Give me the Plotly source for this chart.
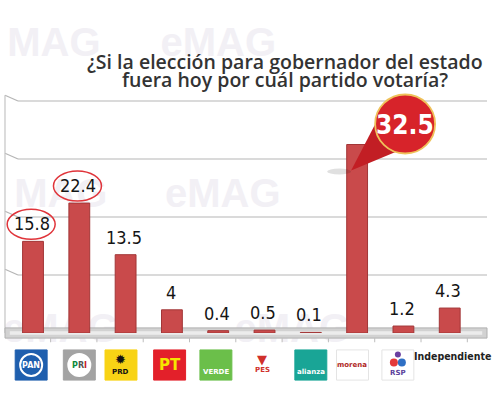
import plotly.graph_objects as go

# datos
partidos = ["PAN", "PRI", "PRD", "PT", "VERDE", "PES", "alianza", "morena", "RSP", "Independiente"]
valores = [15.8, 22.4, 13.5, 4, 0.4, 0.5, 0.1, 32.5, 1.2, 4.3]
etiquetas = ["15.8", "22.4", "13.5", "4", "0.4", "0.5", "0.1", "32.5", "1.2", "4.3"]
marcados = [0, 1]      # valores encerrados en elipse
destacado = 7          # valor con globo
lineas_guia = [10, 20, 30, 40]
titulo = ["¿Si la elección para gobernador del estado", "fuera hoy por cuál partido votaría?"]

# logotipos (cuadro de color + texto)
logo_fondo = ["#1f5fae", "#a3a3a3", "#f8d315", "#e3202a", "#6bbf4a", None, "#19a596", "#ffffff", "#ffffff", None]
logo_texto = ["PAN", "PRI", "PRD", "PT", "VERDE", "PES", "alianza", "morena", "RSP", "Independiente"]
logo_color = ["white", "#c8202a", "#111111", "#f6e500", "white", "#d0302a", "white", "#b0281f", "#5b3f9b", "#222222"]
logo_desfase = [-0.04, 0.0, -0.1, -0.05, -0.05, -0.05, 0.0, -0.1, -0.12, 0.07]

YMAX = 40
ROJO = "#c94a4b"
FUENTE_NUM = "Liberation Sans Narrow, DejaVu Sans Condensed, sans-serif"

fig = go.Figure()

fig.add_trace(
    go.Bar(
        x=list(range(len(valores))),
        y=valores,
        width=0.45,
        marker=dict(color=ROJO, line=dict(color="#a23637", width=1)),
        hoverinfo="skip",
    )
)

shapes = []
annotations = []

# marcas de agua
marcas = [(0.45, 1.27, "MAG"), (4.0, 1.27, "eMAG"),
          (0.6, 0.62, "MAG"), (4.1, 0.62, "eMAG"),
          (0.6, 0.04, "eMAG"), (5.6, 0.04, "eMAG")]
for mx, my, mt in marcas:
    shapes.append(dict(
        type="rect", xref="x", yref="paper", x0=mx - 1.5, x1=mx + 1.5, y0=my - 0.1, y1=my + 0.1,
        line=dict(width=0), fillcolor="rgba(0,0,0,0)", layer="below",
        label=dict(text=mt, font=dict(family="Liberation Sans", size=40, color="#f2f0f5",
                                      weight="bold"),
                   textposition="middle center"),
    ))

# líneas guía con perspectiva
for v in lineas_guia:
    shapes.append(dict(type="line", xref="paper", yref="paper", x0=0.027, x1=1.0,
                       y0=v / YMAX, y1=v / YMAX, line=dict(color="#b5b5b5", width=1.2), layer="below"))
    shapes.append(dict(type="line", xref="paper", yref="paper", x0=0.0, x1=0.027,
                       y0=v / YMAX + 0.025, y1=v / YMAX, line=dict(color="#b5b5b5", width=1.2), layer="below"))
shapes.append(dict(type="line", xref="paper", yref="paper", x0=0.0, x1=0.0, y0=0.0, y1=1.025,
                   line=dict(color="#c4c4c4", width=1.2), layer="below"))

# piso
shapes.append(dict(type="rect", xref="paper", yref="paper", x0=0.0, x1=1.0, y0=-0.022, y1=0.022,
                   line=dict(color="#b0b0b0", width=1), fillcolor="#d2d2d2", layer="below"))
shapes.append(dict(type="rect", xref="paper", yref="paper", x0=0.01, x1=0.99, y0=-0.008, y1=0.008,
                   line=dict(width=0), fillcolor="#ececec", layer="below"))
for i in range(len(valores)):
    shapes.append(dict(type="line", xref="x", yref="paper", x0=i + 0.38, x1=i + 0.38,
                       y0=-0.022, y1=-0.04, line=dict(color="#bdbdbd", width=1)))

# etiquetas de valor
for i, (v, t) in enumerate(zip(valores, etiquetas)):
    if i == destacado:
        continue
    annotations.append(dict(x=i - 0.03, y=v, xref="x", yref="y", text=t, showarrow=False,
                            xanchor="center", yanchor="bottom", yshift=5,
                            font=dict(family=FUENTE_NUM, size=18, color="#151515")))

# elipses rojas
for i in marcados:
    shapes.append(dict(type="circle", xref="x", yref="paper", xsizemode="pixel", ysizemode="pixel",
                       xanchor=i - 0.04, yanchor=valores[i] / YMAX, x0=-24, x1=24, y0=2, y1=32,
                       line=dict(color="#e0343a", width=1.5)))

# globo del valor destacado
yv = valores[destacado] / YMAX
shapes.append(dict(type="circle", xref="x", yref="paper", xsizemode="pixel", ysizemode="pixel",
                   xanchor=destacado, yanchor=yv, x0=-30, x1=-6, y0=-30, y1=-24,
                   fillcolor="rgba(0,0,0,0.12)", line=dict(width=0)))
shapes.append(dict(type="path", xref="x", yref="paper", xsizemode="pixel", ysizemode="pixel",
                   xanchor=destacado, yanchor=yv, path="M 21 26 L 42 -6 L -6 -26 Z",
                   fillcolor="#c21e24", line=dict(width=0)))
shapes.append(dict(type="circle", xref="x", yref="paper", xsizemode="pixel", ysizemode="pixel",
                   xanchor=destacado, yanchor=yv, x0=18, x1=78, y0=-9, y1=50,
                   fillcolor="#d7232a", line=dict(color="#efc25a", width=1.8)))
annotations.append(dict(x=destacado, y=yv, xref="x", yref="paper", xshift=48, yshift=20,
                        xanchor="center", yanchor="middle",
                        text=etiquetas[destacado], showarrow=False,
                        font=dict(family=FUENTE_NUM, size=26, color="white", weight="bold")))

# logotipos
y_top, y_bot = -0.073, -0.203
for i, (fondo, txt, col, d) in enumerate(zip(logo_fondo, logo_texto, logo_color, logo_desfase)):
    cx = i + d
    if txt == "Independiente":
        annotations.append(dict(x=cx, y=-0.066, xref="x", yref="paper", text=txt, showarrow=False,
                                xanchor="center", yanchor="top",
                                font=dict(family=FUENTE_NUM, size=10.5, color=col, weight="bold")))
        continue
    if fondo is not None:
        borde = "#e4e4e4" if fondo == "#ffffff" else fondo
        shapes.append(dict(type="rect", xref="x", yref="paper", x0=cx - 0.345, x1=cx + 0.345,
                           y0=y_bot, y1=y_top, fillcolor=fondo, line=dict(color=borde, width=1)))
    ym = (y_top + y_bot) / 2
    if txt in ("PAN", "PRI"):
        shapes.append(dict(type="circle", xref="x", yref="paper", xsizemode="pixel", ysizemode="pixel",
                           xanchor=cx, yanchor=ym, x0=-11, x1=11, y0=-11, y1=11,
                           fillcolor="#ffffff" if txt == "PRI" else fondo,
                           line=dict(color="white", width=2)))
        size = 8
    elif txt == "PT":
        size = 15
    else:
        size = 7
    if txt == "PRI":
        txt_html = ("<span style='color:#0b8a3c'>P</span><span style='color:#555'>R</span>"
                    "<span style='color:#c8202a'>I</span>")
    else:
        txt_html = txt
    yy = ym
    if txt in ("PRD", "VERDE", "alianza"):
        yy = y_bot + 0.035
    if txt == "RSP":
        yy = y_bot + 0.03
    if txt == "PES":
        yy = y_bot + 0.045
    annotations.append(dict(x=cx, y=yy, xref="x", yref="paper", text=txt_html, showarrow=False,
                            xanchor="center", yanchor="middle",
                            font=dict(family="DejaVu Sans", size=size, color=col, weight="bold")))
    if txt == "PRD":
        annotations.append(dict(x=cx, y=ym + 0.025, xref="x", yref="paper", text="✹", showarrow=False,
                                xanchor="center", yanchor="middle",
                                font=dict(family="DejaVu Sans", size=13, color="#111")))
    if txt == "RSP":
        shapes.append(dict(type="circle", xref="x", yref="paper", xsizemode="pixel", ysizemode="pixel",
                           xanchor=cx, yanchor=ym + 0.02, x0=-8, x1=0, y0=-6, y1=2,
                           fillcolor="#e43a3a", line=dict(width=0)))
        shapes.append(dict(type="circle", xref="x", yref="paper", xsizemode="pixel", ysizemode="pixel",
                           xanchor=cx, yanchor=ym + 0.02, x0=0, x1=8, y0=-6, y1=2,
                           fillcolor="#2f6fc4", line=dict(width=0)))
        shapes.append(dict(type="circle", xref="x", yref="paper", xsizemode="pixel", ysizemode="pixel",
                           xanchor=cx, yanchor=ym + 0.02, x0=-3, x1=3, y0=3, y1=9,
                           fillcolor="#6a3fa0", line=dict(width=0)))
    if txt == "PES":
        annotations.append(dict(x=cx, y=ym + 0.025, xref="x", yref="paper", text="▼", showarrow=False,
                                xanchor="center", yanchor="middle",
                                font=dict(family="DejaVu Sans", size=13, color="#d0302a")))

# título (dos renglones muy juntos)
for linea, ty in zip(titulo, [1.172, 1.094]):
    annotations.append(dict(
        x=0.581, y=ty, xref="paper", yref="paper", showarrow=False,
        xanchor="center", yanchor="middle", text=linea,
        font=dict(family="Open Sans", size=19.5, color="#333333", weight=600),
    ))

fig.update_layout(
    width=492,
    height=420,
    margin=dict(l=5, r=5, t=101, b=87),
    paper_bgcolor="white",
    plot_bgcolor="rgba(0,0,0,0)",
    showlegend=False,
    shapes=shapes,
    annotations=annotations,
    xaxis=dict(range=[-0.605, 9.805], showticklabels=False, showgrid=False, zeroline=False,
               showline=False, ticks=""),
    yaxis=dict(range=[0, YMAX], showticklabels=False, showgrid=False, zeroline=False,
               showline=False, ticks=""),
)

fig.write_html("out.html", config={"displayModeBar": False},
               post_script="document.body.style.margin='0';")
